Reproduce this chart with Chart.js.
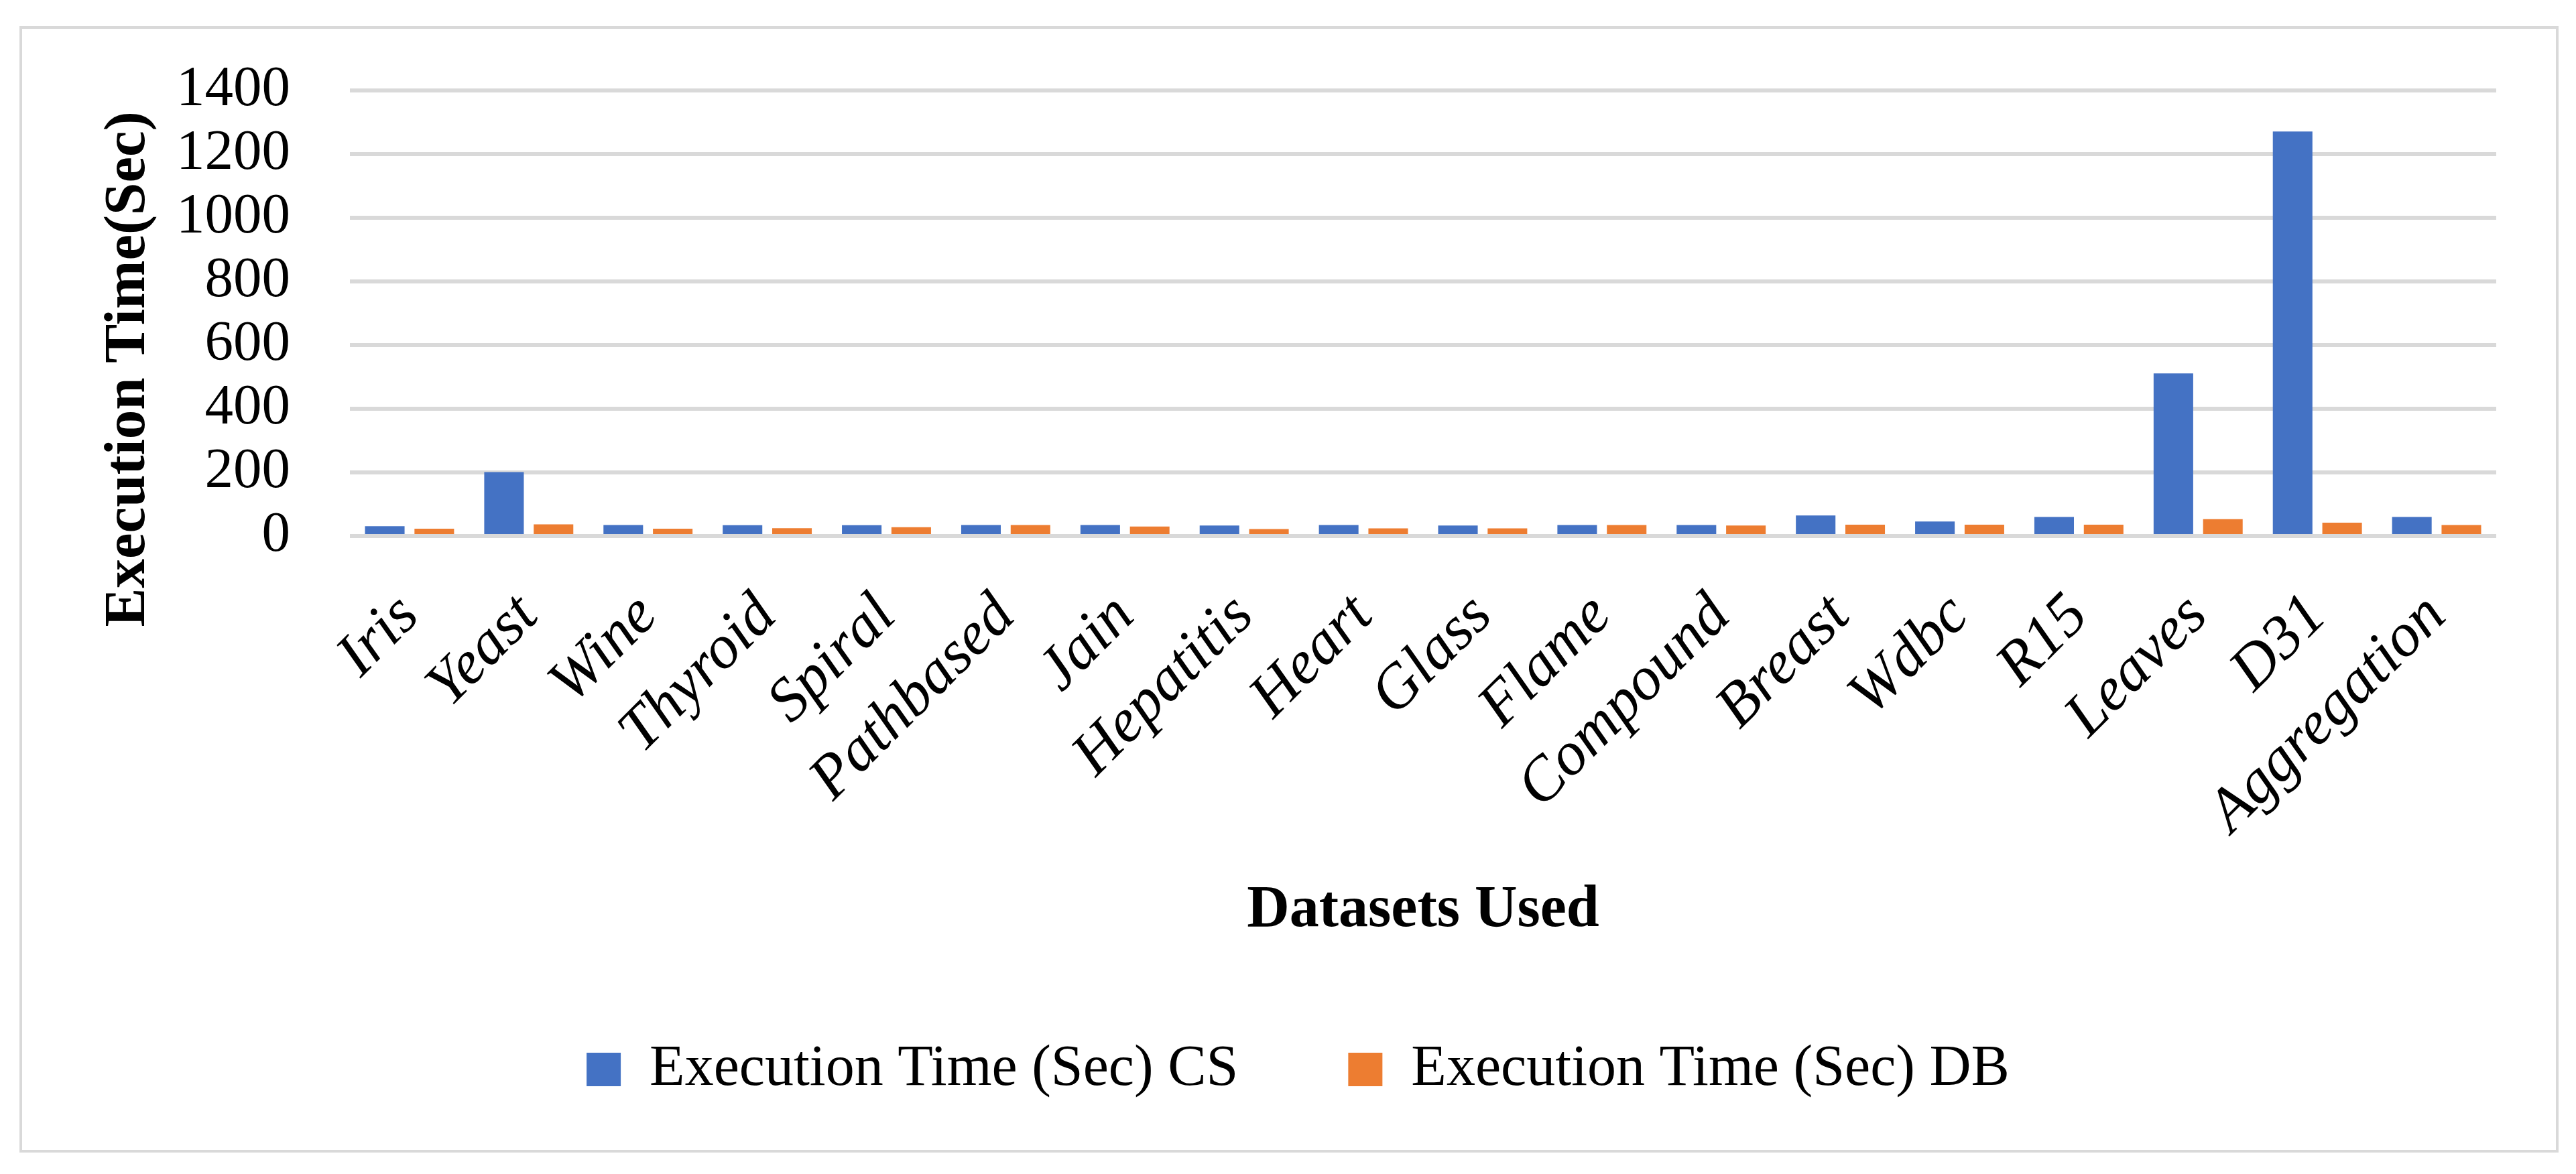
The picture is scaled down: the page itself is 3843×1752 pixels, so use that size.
<!DOCTYPE html>
<html>
<head>
<meta charset="utf-8">
<script src="https://cdn.jsdelivr.net/npm/chart.js@4.4.1/dist/chart.umd.min.js"></script>
<style>
    html, body { margin: 0; padding: 0; background: #ffffff; overflow: hidden; }
    #frame {
        position: absolute;
        left: 29px; top: 39px;
        width: 3788px; height: 1681px;
        border: 4px solid #d9d9d9;
        box-sizing: border-box;
        background: #ffffff;
    }
</style>
</head>
<body>
<div id="frame"><canvas id="timeChart"></canvas></div>

<script>
/* ================= DATA ================= */

const datasetNames = ["Iris", "Yeast", "Wine", "Thyroid", "Spiral", "Pathbased", "Jain", "Hepatitis",
    "Heart", "Glass", "Flame", "Compound", "Breast", "Wdbc", "R15", "Leaves", "D31", "Aggregation"];

const timeCS = [31, 201, 35, 34, 34, 35, 35, 33, 35, 33, 35, 35, 65, 46, 60, 511, 1271, 60];
const timeDB = [23, 37, 23, 25, 28, 35, 30, 22, 24, 24, 35, 33, 36, 36, 36, 53, 42, 35];

const yTicks = [0, 200, 400, 600, 800, 1000, 1200, 1400];

const serif = "'Liberation Serif', 'Times New Roman', serif";

/* ================= Y TITLE (placed like the original) ================= */

const yTitlePlugin = {
    id: "yTitle",
    afterDraw(chart) {
        const ctx = chart.ctx;
        ctx.save();
        ctx.translate(160, 508);
        ctx.rotate(-Math.PI / 2);
        ctx.font = "bold 87px " + serif;
        ctx.fillStyle = "#000000";
        ctx.textAlign = "center";
        ctx.textBaseline = "middle";
        ctx.fillText("Execution Time(Sec)", 0, 0);
        ctx.restore();
    }
};

/* ================= CHART ================= */

new Chart(document.getElementById("timeChart"), {
    type: "bar",
    data: {
        labels: datasetNames,
        datasets: [
            {
                label: "Execution Time (Sec) CS",
                data: timeCS,
                backgroundColor: "#4472C4",
                barPercentage: 0.8,
                categoryPercentage: 0.83
            },
            {
                label: "Execution Time (Sec) DB",
                data: timeDB,
                backgroundColor: "#ED7D31",
                barPercentage: 0.8,
                categoryPercentage: 0.83
            }
        ]
    },
    options: {
        responsive: true,
        maintainAspectRatio: false,
        animation: false,
        layout: {
            padding: { top: 92, right: 89, bottom: 67, left: 116 }
        },
        plugins: {
            legend: {
                position: "bottom",
                labels: {
                    color: "#000000",
                    font: { family: serif, size: 86 },
                    boxWidth: 51,
                    boxHeight: 50,
                    padding: 164
                }
            },
            tooltip: { enabled: false }
        },
        scales: {
            x: {
                grid: { display: false },
                border: { display: false },
                ticks: {
                    color: "#000000",
                    font: { family: serif, size: 92, style: "italic" },
                    autoSkip: false,
                    minRotation: 45,
                    maxRotation: 45,
                    padding: 58
                },
                title: {
                    display: true,
                    text: "Datasets Used",
                    color: "#000000",
                    font: { family: serif, size: 88, weight: "bold", lineHeight: 0.68 },
                    padding: 0
                },
                afterFit(scale) {
                    scale.height = 589;
                }
            },
            y: {
                min: 0,
                max: 1400,
                afterBuildTicks(scale) {
                    scale.ticks = yTicks.map(v => ({ value: v }));
                },
                grid: {
                    color: "#d9d9d9",
                    lineWidth: 6,
                    drawTicks: false
                },
                border: { display: false },
                ticks: {
                    color: "#000000",
                    font: { family: serif, size: 85 },
                    padding: 89,
                    autoSkip: false,
                    callback: v => String(v)
                },
                afterFit(scale) {
                    scale.width = 373;
                    // tick padding is only meant as a horizontal gap here
                    scale.paddingTop = 0;
                    scale.paddingBottom = 0;
                }
            }
        }
    },
    plugins: [yTitlePlugin]
});
</script>
</body>
</html>
